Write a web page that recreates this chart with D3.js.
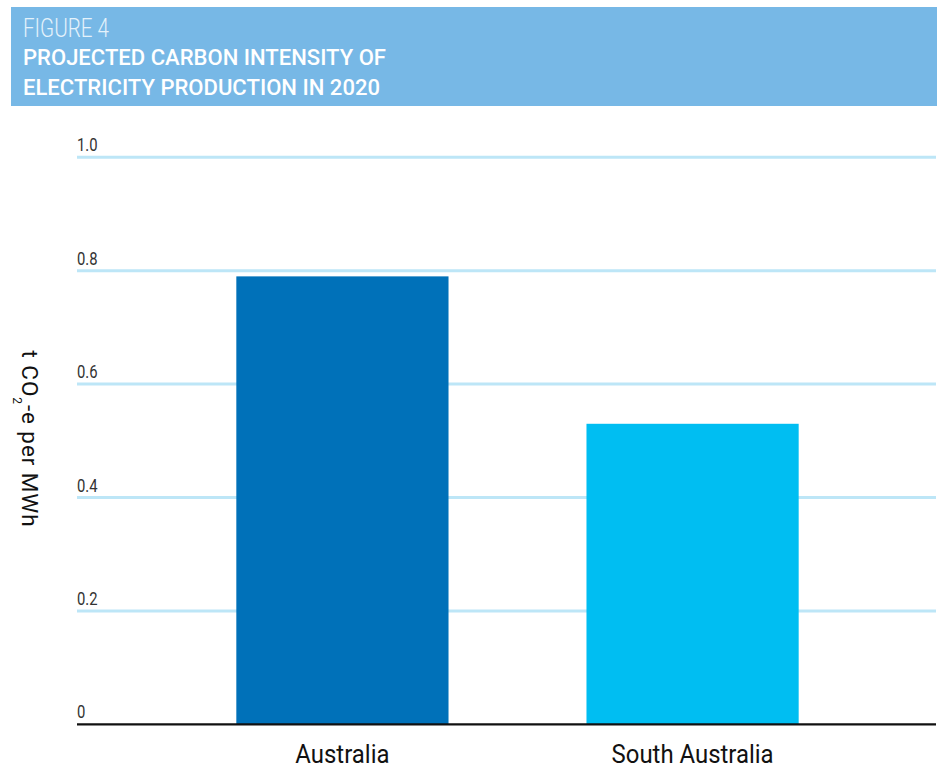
<!DOCTYPE html>
<html>
<head>
<meta charset="utf-8">
<script src="https://cdn.jsdelivr.net/npm/d3@7"></script>
<style>
  html, body { margin: 0; padding: 0; background: #fff; }
  svg { display: block; }
  text { font-family: Roboto, "Noto Sans", sans-serif; }
</style>
</head>
<body>
<svg id="chart" width="940" height="767"></svg>
<script>
// Projected carbon intensity of electricity production, 2020 (t CO2-e per MWh)
const categories = ["Australia", "South Australia"];
const values = [0.79, 0.53];
const barColors = ["#0071b9", "#00bef2"];
const yTicks = [0, 0.2, 0.4, 0.6, 0.8, 1.0];
const tickLabels = ["0", "0.2", "0.4", "0.6", "0.8", "1.0"];

const svg = d3.select("#chart");

// Squeeze text horizontally to get a condensed face out of Roboto
function condense(sel, factor) {
  sel.each(function () {
    const w = this.getComputedTextLength();
    d3.select(this).attr("textLength", w * factor).attr("lengthAdjust", "spacingAndGlyphs");
  });
}

// Header banner
const header = svg.append("g");
header.append("rect")
  .attr("x", 11).attr("y", 7).attr("width", 926).attr("height", 99)
  .attr("fill", "#77b8e6");
header.append("text")
  .attr("x", 23).attr("y", 37)
  .attr("fill", "#e4f2fb")
  .style("font-weight", 300)
  .style("font-size", "25px")
  .attr("textLength", 86).attr("lengthAdjust", "spacingAndGlyphs")
  .text("FIGURE 4");
header.append("text")
  .attr("x", 23).attr("y", 64.5)
  .attr("fill", "#ffffff")
  .style("font-weight", 500)
  .style("font-size", "22.5px")
  .attr("textLength", 363).attr("lengthAdjust", "spacingAndGlyphs")
  .text("PROJECTED CARBON INTENSITY OF");
header.append("text")
  .attr("x", 23).attr("y", 94.5)
  .attr("fill", "#ffffff")
  .style("font-weight", 500)
  .style("font-size", "22.5px")
  .attr("textLength", 357).attr("lengthAdjust", "spacingAndGlyphs")
  .text("ELECTRICITY PRODUCTION IN 2020");

// Scales
const plotLeft = 77, plotRight = 936;
const y = d3.scaleLinear().domain([0, 1]).range([724.3, 157.3]);
const x = d3.scaleBand()
  .domain(categories)
  .range([77, 958])
  .paddingInner(0.394)
  .paddingOuter(0.455);

// Gridlines and tick labels
const grid = svg.append("g");
grid.selectAll("line.grid")
  .data(yTicks.filter(d => d > 0))
  .join("line")
  .attr("class", "grid")
  .attr("x1", plotLeft).attr("x2", plotRight)
  .attr("y1", d => y(d)).attr("y2", d => y(d))
  .attr("stroke", "#bde6f7")
  .attr("stroke-width", 3);

grid.selectAll("text.tick")
  .data(yTicks)
  .join("text")
  .attr("class", "tick")
  .attr("x", plotLeft)
  .attr("y", d => y(d) - 6)
  .attr("fill", "#333")
  .style("font-size", "19px")
  .text((d, i) => tickLabels[i])
  .call(condense, 0.78);

// Bars
svg.append("g").selectAll("rect")
  .data(categories)
  .join("rect")
  .attr("x", d => x(d))
  .attr("width", x.bandwidth())
  .attr("y", (d, i) => y(values[i]))
  .attr("height", (d, i) => y(0) - y(values[i]))
  .attr("fill", (d, i) => barColors[i]);

// Baseline
svg.append("line")
  .attr("x1", plotLeft).attr("x2", plotRight)
  .attr("y1", y(0)).attr("y2", y(0))
  .attr("stroke", "#111").attr("stroke-width", 2.2);

// Category labels
svg.append("g").selectAll("text")
  .data(categories)
  .join("text")
  .attr("x", d => x(d) + x.bandwidth() / 2)
  .attr("y", 762.5)
  .attr("text-anchor", "middle")
  .attr("fill", "#111")
  .style("font-size", "26px")
  .text(d => d)
  .call(condense, 0.92);

// Y axis title, reading downward
const yTitle = svg.append("text")
  .attr("transform", "translate(22, 439) rotate(90)")
  .attr("text-anchor", "middle")
  .attr("fill", "#111")
  .style("font-size", "22.5px")
  .style("letter-spacing", "0.9px");
yTitle.append("tspan").text("t CO");
yTitle.append("tspan").attr("dy", 9).style("font-size", "12px").text("2");
yTitle.append("tspan").attr("dy", -9).text("-e per MWh");
</script>
</body>
</html>
